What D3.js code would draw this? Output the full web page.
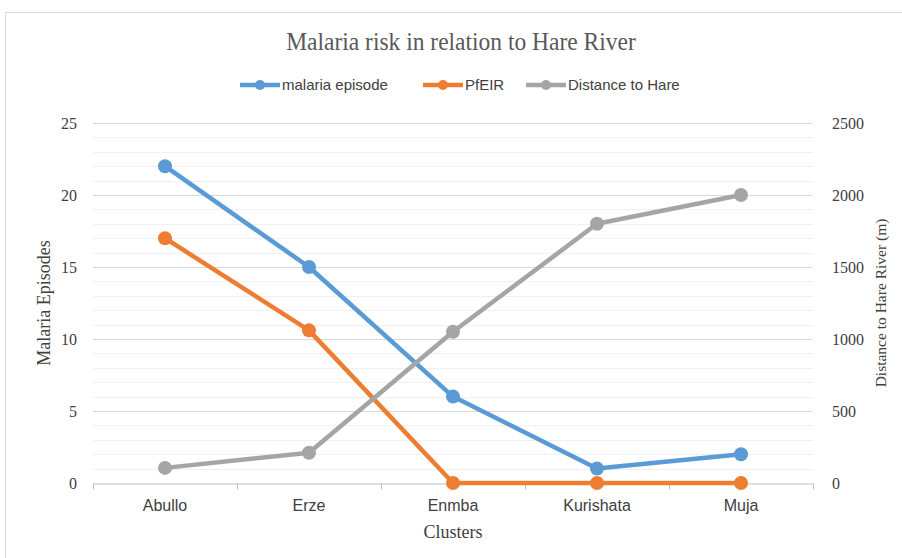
<!DOCTYPE html>
<html>
<head>
<meta charset="utf-8">
<script src="https://cdn.jsdelivr.net/npm/d3@7"></script>
<style>
  body { margin: 0; background: #fff; }
  svg { display: block; }
</style>
</head>
<body>
<div id="chart_area"></div>
<script>
var clusters = ["Abullo", "Erze", "Enmba", "Kurishata", "Muja"];
var malariaEpisode = [22, 15, 6, 1, 2];
var pfEIR = [17, 10.6, 0, 0, 0];
var distanceToHare = [105, 210, 1050, 1800, 2000];
var leftTicks = [0, 5, 10, 15, 20, 25];
var rightTicks = [0, 500, 1000, 1500, 2000, 2500];

var width = 902, height = 558;
var margin = { top: 123, right: 89, bottom: 75, left: 93 };
var sans = "'Liberation Sans Narrow', 'Arial Narrow', 'Liberation Sans', sans-serif";
var serif = "'Liberation Serif', 'DejaVu Serif', serif";

var svg = d3.select("#chart_area")
    .append("svg")
    .attr("width", width)
    .attr("height", height);

// chart frame
svg.append("rect")
    .attr("x", 5.5).attr("y", 12.5)
    .attr("width", width).attr("height", height)
    .attr("fill", "#fff")
    .attr("stroke", "#d9d9d9");

var x = d3.scaleBand()
    .domain(clusters)
    .range([margin.left, width - margin.right]);

var yLeft = d3.scaleLinear()
    .domain([0, 25])
    .range([height - margin.bottom, margin.top]);

var yRight = d3.scaleLinear()
    .domain([0, 2500])
    .range([height - margin.bottom, margin.top]);

// minor gridlines
svg.append("g")
    .selectAll("line")
    .data(d3.range(1, 26).filter(function (d) { return d % 5 !== 0; }))
    .enter()
    .append("line")
    .attr("x1", margin.left).attr("x2", width - margin.right)
    .attr("y1", function (d) { return Math.round(yLeft(d)) + 0.5; })
    .attr("y2", function (d) { return Math.round(yLeft(d)) + 0.5; })
    .attr("stroke", "#f0f0f0");

// major gridlines
svg.append("g")
    .selectAll("line")
    .data(leftTicks.slice(1))
    .enter()
    .append("line")
    .attr("x1", margin.left).attr("x2", width - margin.right)
    .attr("y1", function (d) { return Math.round(yLeft(d)) + 0.5; })
    .attr("y2", function (d) { return Math.round(yLeft(d)) + 0.5; })
    .attr("stroke", "#d9d9d9");

// x axis
var xAxis = svg.append("g")
    .attr("transform", "translate(0," + (Math.round(yLeft(0)) + 0.5) + ")")
    .call(d3.axisBottom(x).tickSize(0).tickPadding(16));
xAxis.select(".domain").attr("stroke", "#bfbfbf");
xAxis.selectAll("text")
    .attr("font-family", sans)
    .attr("font-size", 16)
    .attr("fill", "#404040");
xAxis.selectAll(".sep")
    .data(d3.range(clusters.length + 1))
    .enter()
    .append("line")
    .attr("class", "sep")
    .attr("x1", function (i) { return Math.round(margin.left + i * x.step()) + 0.5; })
    .attr("x2", function (i) { return Math.round(margin.left + i * x.step()) + 0.5; })
    .attr("y1", 0).attr("y2", 6)
    .attr("stroke", "#bfbfbf");

// left axis
var axL = svg.append("g")
    .attr("transform", "translate(" + (margin.left - 13) + ",0)")
    .call(d3.axisLeft(yLeft).tickValues(leftTicks).tickSize(0));
axL.select(".domain").remove();
axL.selectAll("text")
    .attr("font-family", serif)
    .attr("font-size", 16)
    .attr("fill", "#404040");

// right axis
var axR = svg.append("g")
    .attr("transform", "translate(" + (width - margin.right + 16) + ",0)")
    .call(d3.axisRight(yRight).tickValues(rightTicks).tickSize(0).tickFormat(d3.format("d")));
axR.select(".domain").remove();
axR.selectAll("text")
    .attr("font-family", serif)
    .attr("font-size", 16)
    .attr("fill", "#404040");

// titles
svg.append("text")
    .attr("x", 461).attr("y", 50)
    .attr("text-anchor", "middle")
    .attr("font-family", serif)
    .attr("font-size", 25)
    .attr("fill", "#595959")
    .attr("transform", "translate(461,0) scale(0.94,1) translate(-461,0)")
    .text("Malaria risk in relation to Hare River");

svg.append("text")
    .attr("transform", "translate(50," + ((margin.top + height - margin.bottom) / 2) + ") rotate(-90)")
    .attr("text-anchor", "middle")
    .attr("font-family", serif)
    .attr("font-size", 18)
    .attr("fill", "#404040")
    .text("Malaria Episodes");

svg.append("text")
    .attr("transform", "translate(886," + ((margin.top + height - margin.bottom) / 2) + ") rotate(-90)")
    .attr("text-anchor", "middle")
    .attr("font-family", serif)
    .attr("font-size", 15.5)
    .attr("fill", "#404040")
    .text("Distance to Hare River (m)");

svg.append("text")
    .attr("x", (margin.left + width - margin.right) / 2).attr("y", 538)
    .attr("text-anchor", "middle")
    .attr("font-family", serif)
    .attr("font-size", 18)
    .attr("fill", "#404040")
    .text("Clusters");

// series
var series = [
    { name: "malaria episode", values: malariaEpisode, color: "#5b9bd5", scale: yLeft },
    { name: "PfEIR", values: pfEIR, color: "#ed7d31", scale: yLeft },
    { name: "Distance to Hare", values: distanceToHare, color: "#a5a5a5", scale: yRight }
];

series.forEach(function (s) {
    var line = d3.line()
        .x(function (d, i) { return x(clusters[i]) + x.bandwidth() / 2; })
        .y(function (d) { return s.scale(d); });

    var g = svg.append("g");
    g.append("path")
        .datum(s.values)
        .attr("d", line)
        .attr("fill", "none")
        .attr("stroke", s.color)
        .attr("stroke-width", 4.5)
        .attr("stroke-linejoin", "round");

    g.selectAll("circle")
        .data(s.values)
        .enter()
        .append("circle")
        .attr("cx", function (d, i) { return x(clusters[i]) + x.bandwidth() / 2; })
        .attr("cy", function (d) { return s.scale(d); })
        .attr("r", 7)
        .attr("fill", s.color);
});

// legend
var legendX = [240, 423, 526];
var legend = svg.append("g");
series.forEach(function (s, i) {
    var lg = legend.append("g")
        .attr("transform", "translate(" + legendX[i] + ",85)");
    lg.append("line")
        .attr("x1", 0).attr("x2", 40)
        .attr("stroke", s.color)
        .attr("stroke-width", 4.5);
    lg.append("circle")
        .attr("cx", 20).attr("r", 5)
        .attr("fill", s.color);
    lg.append("text")
        .attr("x", 42).attr("dy", "0.35em")
        .attr("font-family", sans)
        .attr("font-size", 15)
        .attr("fill", "#404040")
        .text(s.name);
});
</script>
</body>
</html>
